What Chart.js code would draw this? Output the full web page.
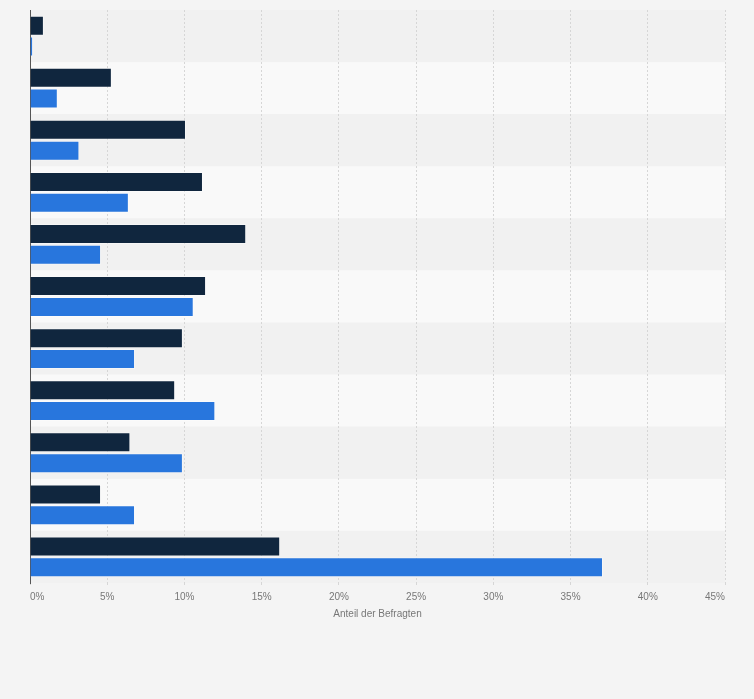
<!DOCTYPE html>
<html>
<head>
<meta charset="utf-8">
<script src="https://cdn.jsdelivr.net/npm/chart.js@4"></script>
<style>
  html, body { margin: 0; padding: 0; background: #f4f4f4; }
  #wrap { width: 754px; height: 699px; position: relative; }
</style>
</head>
<body>
<div id="wrap"><canvas id="c"></canvas></div>
<script>
// categories (no labels shown in the reference)
const categories = ['1', '2', '3', '4', '5', '6', '7', '8', '9', '10', '11'];
const seriesNames = ['Serie 1', 'Serie 2'];
const seriesDark = [0.9, 5.3, 10.1, 11.2, 14.0, 11.4, 9.9, 9.4, 6.5, 4.6, 16.2];
const seriesBlue = [0.2, 1.8, 3.2, 6.4, 4.6, 10.6, 6.8, 12.0, 9.9, 6.8, 37.1];
const xTicks = [0, 5, 10, 15, 20, 25, 30, 35, 40, 45];
const xTitle = 'Anteil der Befragten';

const bandPlugin = {
  id: 'bands',
  beforeDraw(chart) {
    const ctx = chart.ctx;
    const { left, right, top, bottom } = chart.chartArea;
    ctx.save();
    ctx.fillStyle = '#f4f4f4';
    ctx.fillRect(0, 0, chart.width, chart.height);
    const n = categories.length;
    const h = (bottom - top) / n;
    for (let i = 0; i < n; i++) {
      ctx.fillStyle = i % 2 === 0 ? '#f1f1f1' : '#f9f9f9';
      ctx.fillRect(left, top + i * h, right - left, h);
    }
    ctx.restore();
  }
};

new Chart(document.getElementById('c'), {
  type: 'bar',
  data: {
    labels: categories,
    datasets: [
      {
        label: seriesNames[0],
        data: seriesDark,
        backgroundColor: '#10263e',
        borderColor: 'rgba(255,255,255,0.35)',
        borderWidth: 1,
        categoryPercentage: 0.8,
        barPercentage: 0.96
      },
      {
        label: seriesNames[1],
        data: seriesBlue,
        backgroundColor: '#2876dd',
        borderColor: 'rgba(255,255,255,0.35)',
        borderWidth: 1,
        categoryPercentage: 0.8,
        barPercentage: 0.96
      }
    ]
  },
  options: {
    indexAxis: 'y',
    responsive: true,
    maintainAspectRatio: false,
    animation: false,
    layout: { padding: { left: 30, right: 29, top: 10, bottom: 79 } },
    plugins: {
      legend: { display: false },
      tooltip: { enabled: false }
    },
    scales: {
      x: {
        type: 'linear',
        min: 0,
        max: 45,
        afterBuildTicks(scale) { scale.ticks = xTicks.map(v => ({ value: v })); },
        ticks: {
          callback: v => v + '%',
          color: '#777',
          font: { family: 'Liberation Sans, Arial, sans-serif', size: 10 },
          padding: 6,
          align: 'inner',
          maxRotation: 0
        },
        grid: {
          color: '#d6d6d6',
          lineWidth: 1,
          drawTicks: true,
          tickLength: 2
        },
        border: { display: false, dash: [2, 2] },
        title: {
          display: true,
          text: xTitle,
          color: '#777',
          font: { family: 'Liberation Sans, Arial, sans-serif', size: 10 },
          padding: { top: -1, bottom: 0 }
        }
      },
      y: {
        ticks: { display: false },
        grid: { display: false },
        border: { display: true, color: '#555', width: 1 },
        afterFit(scale) { scale.width = 0; }
      }
    }
  },
  plugins: [bandPlugin]
});
</script>
</body>
</html>
